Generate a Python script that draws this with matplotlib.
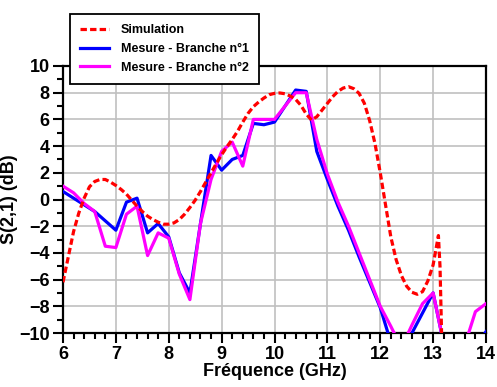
import matplotlib
matplotlib.use("Agg")
import matplotlib.pyplot as plt
from matplotlib.ticker import MultipleLocator

plt.rcParams['font.family'] = ['Liberation Sans', 'DejaVu Sans']
plt.rcParams['font.weight'] = 'bold'

# simulation (fine sampling)
sim_f = [6.0, 6.1, 6.2, 6.3, 6.4, 6.5, 6.6, 6.7, 6.8, 6.9,
         7.0, 7.1, 7.2, 7.3, 7.4, 7.5, 7.6, 7.7, 7.8, 7.9,
         8.0, 8.1, 8.2, 8.3, 8.4, 8.5, 8.6, 8.7, 8.8, 8.9,
         9.0, 9.1, 9.2, 9.3, 9.4, 9.5, 9.6, 9.7, 9.8, 9.9,
         10.0, 10.1, 10.2, 10.3, 10.4, 10.5, 10.6, 10.7, 10.8, 10.9,
         11.0, 11.1, 11.2, 11.3, 11.4, 11.5, 11.6, 11.7, 11.8, 11.9,
         12.0, 12.1, 12.2, 12.3, 12.4, 12.5, 12.6, 12.7, 12.8, 12.9,
         13.0, 13.05, 13.1, 13.13, 13.16, 13.2]
sim_db = [-6.2, -4.3, -2.4, -1.0, 0.1, 0.95, 1.35, 1.5, 1.5, 1.3,
          1.05, 0.75, 0.4, -0.05, -0.5, -0.9, -1.25, -1.5, -1.7, -1.85,
          -1.85, -1.75, -1.5, -1.1, -0.6, -0.05, 0.6, 1.3, 2.0, 2.7,
          3.35, 3.95, 4.5, 5.1, 5.8, 6.45, 6.95, 7.3, 7.6, 7.85,
          7.95, 7.98, 7.92, 7.75, 7.5, 7.05, 6.4, 5.95, 6.2, 6.7,
          7.2, 7.7, 8.1, 8.35, 8.45, 8.3, 7.95, 7.2, 5.9, 4.2,
          2.0, -0.4, -2.8, -4.5, -5.7, -6.5, -6.95, -7.1, -6.9, -6.1,
          -4.9, -3.8, -2.7, -5.0, -10.0, -14.0]

# measurements, 0.2 GHz step
meas_f = [6.0, 6.2, 6.4, 6.6, 6.8, 7.0, 7.2, 7.4, 7.6, 7.8,
          8.0, 8.2, 8.4, 8.6, 8.8, 9.0, 9.2, 9.4, 9.6, 9.8,
          10.0, 10.2, 10.4, 10.6, 10.8, 11.0, 11.2, 11.4, 11.6, 11.8,
          12.0, 12.2, 12.4, 12.6, 12.8, 13.0, 13.2, 13.4, 13.6, 13.8, 14.0]
branche1 = [0.6, 0.1, -0.4, -0.9, -1.6, -2.3, -0.2, 0.1, -2.5, -1.8,
            -2.8, -5.5, -7.0, -1.8, 3.3, 2.2, 3.0, 3.3, 5.7, 5.6,
            5.8, 7.0, 8.2, 8.1, 3.6, 1.5, -0.5, -2.3, -4.3, -6.2,
            -8.1, -10.7, -11.5, -10.0, -8.5, -7.0, -10.8, -12.0, -12.0, -11.0, -9.9]
branche2 = [1.0, 0.5, -0.3, -0.9, -3.5, -3.6, -1.1, -0.5, -4.2, -2.5,
            -2.9, -5.6, -7.5, -1.8, 1.5, 3.6, 4.3, 2.5, 6.0, 6.0,
            6.0, 7.0, 8.0, 8.0, 4.5, 1.9, -0.2, -2.0, -4.0, -6.0,
            -8.0, -9.5, -11.1, -9.4, -7.8, -7.0, -10.8, -13.0, -10.9, -8.4, -7.8]

labels = ["Simulation", "Mesure - Branche n°1", "Mesure - Branche n°2"]

fig = plt.figure(figsize=(4.97, 3.87), dpi=100)
ax = fig.add_axes([63 / 497, 1 - 333 / 387, 423 / 497, 267 / 387])

l_sim, = ax.plot(sim_f, sim_db, color="#ff0000", lw=2.3, dashes=(2, 1), zorder=4)
l_b1, = ax.plot(meas_f, branche1, color="#0000ff", lw=2.3, zorder=3)
l_b2, = ax.plot(meas_f, branche2, color="#ff00ff", lw=2.3, zorder=3.5)

ax.set_xlim(6, 14)
ax.set_ylim(-10, 10)
ax.xaxis.set_major_locator(MultipleLocator(1))
ax.xaxis.set_minor_locator(MultipleLocator(0.2))
ax.yaxis.set_major_locator(MultipleLocator(2))
ax.yaxis.set_minor_locator(MultipleLocator(1))
ax.grid(True, which="major", color="#c0c0c0", lw=1.2)
ax.set_axisbelow(True)

ax.tick_params(which="major", direction="out", length=7, width=1.5, labelsize=13, pad=2.5)
ax.tick_params(which="minor", direction="out", length=4, width=1.5)
for s in ax.spines.values():
    s.set_linewidth(1.6)

ax.set_xlabel("Fréquence (GHz)", fontsize=13, fontweight="bold", labelpad=0)
ax.set_ylabel("S(2,1) (dB)", fontsize=13, fontweight="bold", labelpad=1)

leg = fig.legend([l_sim, l_b1, l_b2], labels, loc="upper left",
                 bbox_to_anchor=(70 / 497, 1 - 14 / 387), bbox_transform=fig.transFigure,
                 borderaxespad=0, fontsize=9, handlelength=2.3, handletextpad=0.95,
                 borderpad=0.8, labelspacing=0.55, fancybox=False, framealpha=1,
                 edgecolor="black")
leg.get_frame().set_linewidth(1.3)
leg.set_zorder(10)

fig.savefig("out.png", dpi=100)
